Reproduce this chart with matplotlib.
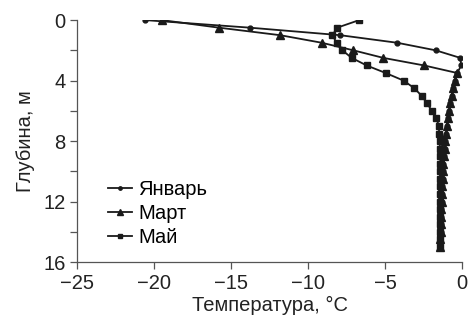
import matplotlib
matplotlib.use("Agg")
import matplotlib.pyplot as plt

plt.rcParams['font.family'] = ['Liberation Sans', 'DejaVu Sans']

# depth, m (every 0.5 m)
depth = [0, 0.5, 1, 1.5, 2, 2.5, 3, 3.5, 4, 4.5, 5, 5.5, 6, 6.5, 7, 7.5,
         8, 8.5, 9, 9.5, 10, 10.5, 11, 11.5, 12, 12.5, 13, 13.5, 14, 14.5, 15]

# temperature, C
jan = [-20.6, -13.8, -7.9, -4.2, -1.7, -0.1, -0.05, -0.3, -0.45, -0.58, -0.67,
       -0.75, -0.83, -0.9, -0.97, -1.03, -1.08, -1.12, -1.16, -1.2, -1.22,
       -1.25, -1.27, -1.29, -1.31, -1.33, -1.35, -1.37, -1.38, -1.4, -1.42]
mar = [-19.5, -15.8, -11.8, -9.1, -7.05, -5.1, -2.45, -0.3, -0.45, -0.58, -0.67,
       -0.75, -0.83, -0.9, -0.97, -1.03, -1.08, -1.12, -1.16, -1.2, -1.22,
       -1.25, -1.27, -1.29, -1.31, -1.33, -1.35, -1.37, -1.38, -1.4, -1.42]
may = [-6.67, -8.1, -8.42, -8.14, -7.77, -7.16, -6.19, -4.95, -3.79, -3.1, -2.62,
       -2.27, -1.95, -1.69, -1.47, -1.5, -1.45, -1.42, -1.41, -1.4, -1.4,
       -1.41, -1.41, -1.42, -1.42, -1.43, -1.43, -1.44, -1.44, -1.45, -1.45]

labels = ['Январь', 'Март', 'Май']
xticks = [-25, -20, -15, -10, -5, 0]
yticks = [0, 2, 4, 6, 8, 10, 12, 14, 16]
ylabels = ['0', '', '4', '', '8', '', '12', '', '16']

fig = plt.figure(figsize=(4.68, 3.24), dpi=100)
ax = fig.add_axes([0.165, 0.191, 0.822, 0.747])

ax.plot(jan, depth, color='#1a1a1a', lw=1.3, marker='o', ms=3.5, label=labels[0])
ax.plot(mar, depth, color='#1a1a1a', lw=1.3, marker='^', ms=5.5, label=labels[1])
ax.plot(may, depth, color='#1a1a1a', lw=1.3, marker='s', ms=4.3, label=labels[2])

ax.set_xlim(-25, 0)
ax.set_ylim(16, 0)
ax.set_xticks(xticks)
ax.set_yticks(yticks)
ax.set_yticklabels(ylabels)
ax.tick_params(labelsize=14.5, color='#555555', length=5, width=0.9, labelcolor='#222222')
for s in ['top', 'right']:
    ax.spines[s].set_visible(False)
for s in ['left', 'bottom']:
    ax.spines[s].set_color('#555555')
    ax.spines[s].set_linewidth(0.9)

ax.set_xlabel('Температура, °C', fontsize=14.5, color='#222222', labelpad=2)
ax.set_ylabel('Глубина, м', fontsize=14.5, color='#222222', labelpad=6)

leg = ax.legend(loc='upper left', bbox_to_anchor=(0.08, 0.34), frameon=False,
                fontsize=14.5, handlelength=1.2, handletextpad=0.3,
                labelspacing=0.25, borderpad=0, borderaxespad=0, markerscale=0.7)

fig.savefig('out.png', dpi=100)
